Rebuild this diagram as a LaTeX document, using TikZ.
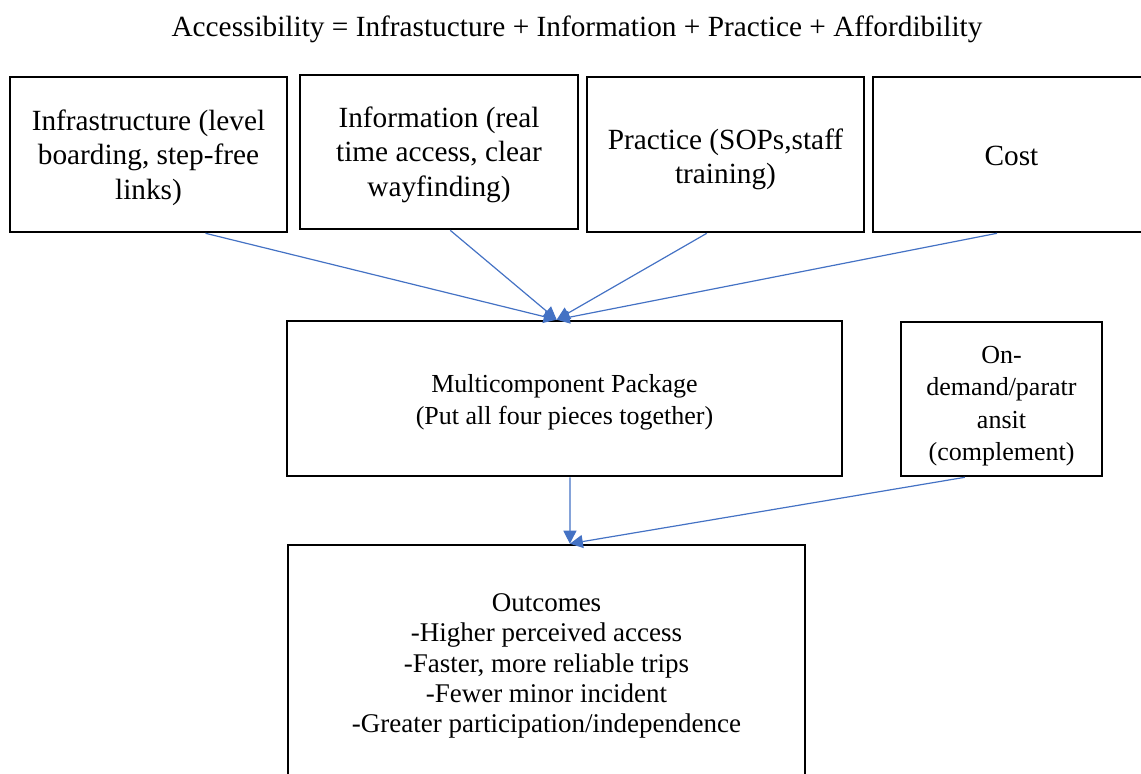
\documentclass[tikz,border=0pt]{standalone}
\usepackage{fontspec}
\setmainfont{Liberation Serif}
\usetikzlibrary{arrows.meta,calc}
\definecolor{arrowblue}{RGB}{68,114,196}
\tikzset{
  boxnode/.style={draw=black, line width=2.6pt, rectangle, inner sep=0pt},
  bigtext/.style={align=center, inner sep=0pt, font=\fontsize{29.3}{34.5}\selectfont},
  midtext/.style={align=center, inner sep=0pt, font=\fontsize{26}{32.5}\selectfont},
  outtext/.style={align=center, inner sep=0pt, font=\fontsize{27}{30.3}\selectfont},
  conn/.style={draw=arrowblue, line width=1.2pt, -{Triangle[length=13pt,width=13pt]}}
}
\begin{document}
\begin{tikzpicture}[x=1pt,y=-1pt]
\useasboundingbox (0,0) rectangle (1141,774);
\node[font=\fontsize{29.3}{34}\selectfont] (title) at (577,29) {Accessibility = Infrastucture + Information + Practice + Affordibility};
\node[boxnode, minimum width=277pt, minimum height=155pt,
  label={[bigtext,yshift=-3pt]center:{Infrastructure (level\\boarding, step-free\\links)}}] (b1) at (148.5,154.5) {};
\node[boxnode, minimum width=278pt, minimum height=154pt,
  label={[bigtext,yshift=-2.5pt]center:{Information (real\\time access, clear\\wayfinding)}}] (b2) at (439,152) {};
\node[boxnode, minimum width=277pt, minimum height=155pt,
  label={[bigtext,yshift=-5pt]center:{Practice (SOPs,staff\\training)}}] (b3) at (725.5,154.5) {};
\node[boxnode, minimum width=277pt, minimum height=155pt,
  label={[bigtext,yshift=-1pt]center:{Cost}}] (b4) at (1011.5,154.5) {};
\node[boxnode, minimum width=555pt, minimum height=155pt,
  label={[midtext,yshift=-4pt]center:{Multicomponent Package\\(Put all four pieces together)}}] (mp) at (564.5,398.5) {};
\node[boxnode, minimum width=201pt, minimum height=154pt,
  label={[midtext,yshift=-7pt]center:{On-\\demand/paratr\\ansit\\(complement)}}] (od) at (1001.5,399) {};
\node[boxnode, minimum width=517pt, minimum height=236pt,
  label={[outtext,yshift=-3pt]center:{Outcomes\\-Higher perceived access\\-Faster, more reliable trips\\-Fewer minor incident\\-Greater participation/independence}}] (out) at (546.5,663) {};
\coordinate (mpin) at ($(mp.north west)!0.486!(mp.north east)$);
\coordinate (outin) at ($(out.north west)!0.545!(out.north east)$);
\draw[conn] ($(b1.south west)!0.704!(b1.south east)$) -- (mpin);
\draw[conn] ($(b2.south west)!0.54!(b2.south east)$) -- (mpin);
\draw[conn] ($(b3.south west)!0.433!(b3.south east)$) -- (mpin);
\draw[conn] ($(b4.south west)!0.448!(b4.south east)$) -- (mpin);
\draw[conn] ($(mp.south west)!0.51!(mp.south east)$) -- (outin);
\draw[conn] ($(od.south west)!0.32!(od.south east)$) -- (outin);
\end{tikzpicture}
\end{document}
